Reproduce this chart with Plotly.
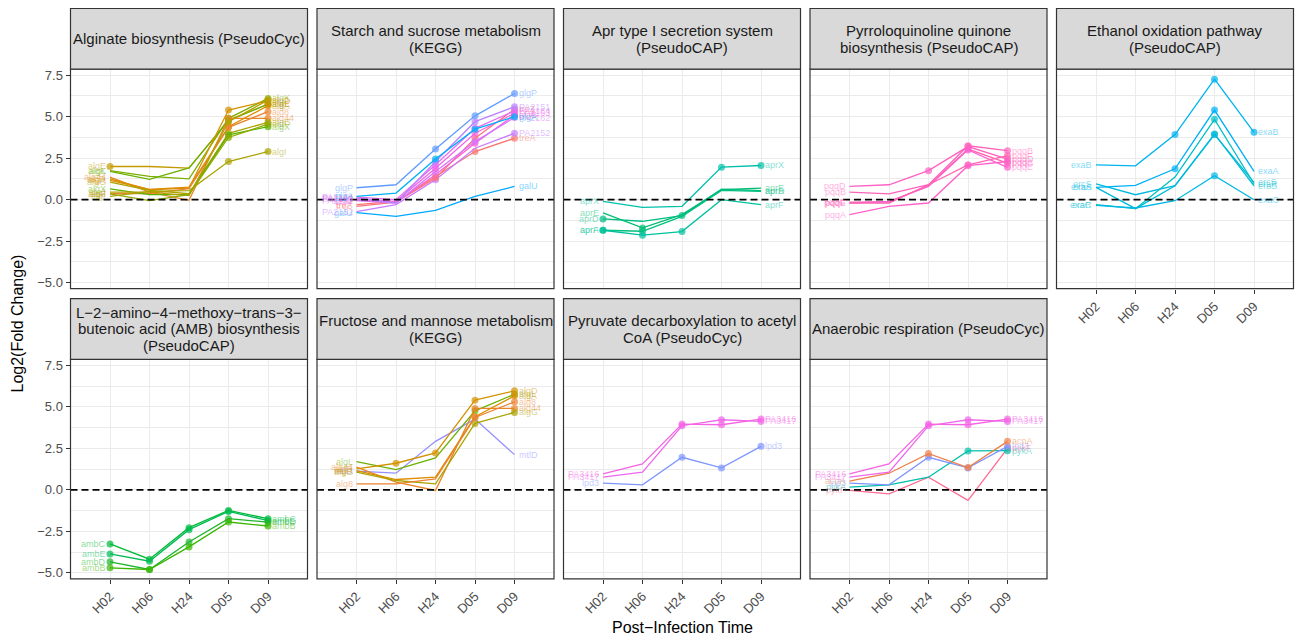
import plotly.graph_objects as go

TIMES = ["H02", "H06", "H24", "D05", "D09"]

# ---------------- data ----------------
alginate_title = ["Alginate biosynthesis (PseudoCyc)"]
alginate_genes = ["algE", "algK", "algL", "alg44", "algD", "algA", "alg8", "algG", "algX", "algJ", "algF", "algI"]
alginate_values = [
    [2.00, 2.00, 1.90, 4.80, 5.75],
    [1.75, 1.40, 1.25, 4.90, 6.10],
    [1.70, 1.22, 1.92, 4.76, 5.76],
    [1.36, 0.46, -0.04, 4.90, 4.90],
    [1.26, 0.60, 0.70, 5.40, 5.96],
    [1.16, 0.62, 0.76, 4.40, 5.66],
    [0.36, 0.36, 0.66, 4.36, 5.30],
    [1.06, 0.56, 0.36, 4.00, 4.66],
    [0.65, 0.30, 0.30, 3.90, 4.40],
    [0.45, 0.45, 0.25, 4.70, 6.00],
    [0.35, -0.05, 0.30, 3.75, 4.55],
    [0.20, 0.50, 0.55, 2.30, 2.90],
]
alginate_sig = [[1, 0, 0, 1, 1]] + [[0, 0, 0, 1, 1]] * 11

starch_title = ["Starch and sucrose metabolism", "(KEGG)"]
starch_genes = ["galU", "treA", "PA2152", "treZ", "glgB", "PA2162", "PA2163", "PA2164", "PA2151", "glgA", "glgP"]
starch_values = [
    [-0.78, -1.00, -0.65, 0.20, 0.80],
    [-0.30, -0.10, 1.40, 2.90, 3.70],
    [-0.72, -0.30, 1.20, 3.10, 4.00],
    [-0.40, -0.15, 1.30, 3.70, 5.45],
    [0.00, -0.15, 1.50, 3.40, 5.10],
    [-0.05, -0.20, 1.70, 3.50, 4.95],
    [0.05, -0.10, 1.90, 4.00, 5.20],
    [0.15, 0.00, 2.10, 4.30, 5.35],
    [0.10, -0.20, 2.30, 4.70, 5.60],
    [0.20, 0.40, 2.45, 4.25, 5.00],
    [0.72, 0.90, 3.05, 5.05, 6.40],
]
starch_sig = [
    [0, 0, 0, 0, 0], [0, 0, 1, 1, 1], [0, 0, 1, 0, 1], [0, 0, 1, 1, 1],
    [0, 0, 0, 1, 1], [0, 0, 1, 1, 1], [0, 0, 1, 1, 1], [0, 0, 1, 1, 1],
    [0, 0, 1, 1, 1], [0, 0, 1, 1, 1], [0, 0, 1, 1, 1],
]

apr_title = ["Apr type I secretion system", "(PseudoCAP)"]
apr_genes = ["aprX", "aprE", "aprD", "aprA", "aprF"]
apr_values = [
    [-0.10, -0.46, -0.40, 1.96, 2.06],
    [-0.80, -1.70, -0.90, 0.60, 0.70],
    [-1.16, -1.30, -0.96, 0.64, 0.55],
    [-1.84, -1.90, -1.00, 0.56, 0.50],
    [-1.84, -2.14, -1.92, 0.00, -0.30],
]
apr_sig = [[0, 0, 0, 1, 1], [0, 1, 0, 0, 0], [1, 0, 1, 0, 0], [1, 1, 0, 0, 0], [1, 1, 1, 0, 0]]

pqq_title = ["Pyrroloquinoline quinone", "biosynthesis (PseudoCAP)"]
pqq_genes = ["pqqD", "pqqB", "pqqC", "pqqE", "pqqF", "pqqA"]
pqq_values = [
    [0.80, 0.90, 1.75, 3.20, 2.45],
    [0.45, 0.35, 0.90, 3.25, 2.95],
    [-0.15, -0.15, 0.85, 3.05, 2.20],
    [-0.20, -0.10, 0.80, 3.00, 1.95],
    [-0.20, -0.20, 0.90, 2.10, 2.65],
    [-0.90, -0.40, -0.20, 2.05, 2.30],
]
pqq_sig = [[0, 0, 1, 1, 1]] + [[0, 0, 0, 1, 1]] * 5

ethanol_title = ["Ethanol oxidation pathway", "(PseudoCAP)"]
ethanol_genes = ["exaB", "exaA", "ercS", "eraS", "eraR", "exaC"]
ethanol_values = [
    [2.10, 2.04, 3.92, 7.26, 4.06],
    [0.74, 0.86, 1.86, 5.40, 1.70],
    [0.96, 0.30, 0.84, 3.92, 1.04],
    [0.74, -0.54, 0.84, 3.96, 0.84],
    [-0.30, -0.54, 1.36, 4.84, 0.96],
    [-0.34, -0.50, -0.06, 1.44, 0.00],
]
ethanol_sig = [[0, 0, 1, 1, 1], [0, 0, 1, 1, 0], [0, 0, 0, 1, 0], [0, 0, 0, 1, 0], [0, 0, 0, 1, 0], [0, 0, 0, 1, 0]]

amb_title = ["L\u22122\u2212amino\u22124\u2212methoxy\u2212trans\u22123\u2212", "butenoic acid (AMB) biosynthesis", "(PseudoCAP)"]
amb_genes = ["ambC", "ambE", "ambD", "ambB"]
amb_values = [
    [-3.26, -4.18, -2.28, -1.24, -1.74],
    [-3.86, -4.30, -2.40, -1.30, -1.85],
    [-4.34, -4.80, -3.14, -1.74, -1.95],
    [-4.70, -4.80, -3.44, -1.94, -2.18],
]
amb_sig = [[1, 1, 1, 1, 1]] * 4

fructose_title = ["Fructose and mannose metabolism", "(KEGG)"]
fructose_genes = ["mtlD", "algL", "alg44", "algD", "algA", "algG", "alg8"]
fructose_values = [
    [1.12, 1.00, 2.92, 4.26, 2.12],
    [1.70, 1.22, 1.92, 4.76, 5.76],
    [1.36, 0.46, -0.04, 4.90, 4.90],
    [1.26, 1.60, 2.22, 5.40, 5.96],
    [1.16, 0.62, 0.76, 4.40, 5.66],
    [1.06, 0.56, 0.36, 4.00, 4.66],
    [0.36, 0.36, 0.66, 4.36, 5.30],
]
fructose_sig = [[0, 0, 0, 0, 0], [0, 0, 0, 1, 1], [0, 0, 0, 1, 1], [0, 1, 1, 1, 1],
                [0, 0, 0, 1, 1], [0, 0, 0, 1, 1], [0, 0, 0, 1, 1]]

pyruvate_title = ["Pyruvate decarboxylation to acetyl", "CoA (PseudoCyc)"]
pyruvate_genes = ["lpd3", "PA3417", "PA3416"]
pyruvate_values = [
    [0.40, 0.30, 1.96, 1.32, 2.62],
    [0.76, 1.06, 3.86, 4.22, 4.12],
    [0.96, 1.56, 3.96, 3.92, 4.26],
]
pyruvate_sig = [[0, 0, 1, 1, 1]] * 3

anaerobic_title = ["Anaerobic respiration (PseudoCyc)"]
anaerobic_genes = ["pykF", "pykA", "lpd3", "acnA", "PA3417", "PA3416"]
anaerobic_values = [
    [-0.04, -0.24, 0.76, -0.64, 2.50],
    [0.16, 0.30, 0.76, 2.34, 2.36],
    [0.40, 0.30, 1.96, 1.32, 2.62],
    [0.52, 1.00, 2.18, 1.34, 2.92],
    [0.76, 1.06, 3.86, 4.22, 4.12],
    [0.96, 1.56, 3.96, 3.92, 4.26],
]
anaerobic_sig = [[0, 0, 0, 0, 1], [0, 0, 0, 1, 1], [0, 0, 1, 1, 1], [0, 0, 1, 1, 1],
                 [0, 0, 1, 1, 1], [0, 0, 1, 1, 1]]

# ---------------- styles ----------------
GENE_COLORS = {
    "algE": "#C49A00", "algK": "#7CAE00", "algL": "#6BB100", "alg44": "#E88526",
    "algD": "#D39200", "algA": "#DE8C00", "alg8": "#EA8331", "algG": "#ABA300",
    "algX": "#53B400", "algJ": "#B79F00", "algF": "#8FAA00", "algI": "#AAA300",
    "galU": "#00A9FF", "treA": "#F8766D", "PA2152": "#C77CFF", "treZ": "#FC7280",
    "glgB": "#FD61D1", "PA2162": "#D575FE", "PA2163": "#F564E3", "PA2164": "#E76BF3",
    "PA2151": "#B983FF", "glgA": "#00B0F6", "glgP": "#619CFF",
    "aprX": "#00C0AB", "aprE": "#00BE70", "aprD": "#00BD82", "aprA": "#00BF7D", "aprF": "#00C19F",
    "pqqD": "#FF61C3", "pqqB": "#FF62BC", "pqqC": "#FF65AE", "pqqE": "#FD61D1",
    "pqqF": "#FF64B3", "pqqA": "#FF61C9",
    "exaB": "#00B4EF", "exaA": "#00B0F6", "ercS": "#00BAE0", "eraS": "#00BCD8",
    "eraR": "#00BFC4", "exaC": "#00B8E5",
    "ambC": "#00BA38", "ambE": "#00BC56", "ambD": "#1DB52A", "ambB": "#39B600",
    "mtlD": "#9590FF", "lpd3": "#7F96FF", "PA3417": "#EF67EB", "PA3416": "#F564E3",
    "acnA": "#EE7F46", "pykA": "#00BFAA", "pykF": "#FF6C91",
}

PANELS = [
    (alginate_title, alginate_genes, alginate_values, alginate_sig),
    (starch_title, starch_genes, starch_values, starch_sig),
    (apr_title, apr_genes, apr_values, apr_sig),
    (pqq_title, pqq_genes, pqq_values, pqq_sig),
    (ethanol_title, ethanol_genes, ethanol_values, ethanol_sig),
    (amb_title, amb_genes, amb_values, amb_sig),
    (fructose_title, fructose_genes, fructose_values, fructose_sig),
    (pyruvate_title, pyruvate_genes, pyruvate_values, pyruvate_sig),
    (anaerobic_title, anaerobic_genes, anaerobic_values, anaerobic_sig),
]

# The page body adds an 8px margin, so the figure is drawn 8px in from the
# window corner; coordinates below are window pixels and are converted.
OFF = 8
W, H = 1304 - OFF, 641 - OFF
FONT = "Liberation Sans, Arial, Helvetica, sans-serif"
COL_X0 = [70.5 + i * 246.5 for i in range(5)]
PANEL_W = 237
STRIP_TOP = [7.5, 299.0]
PLOT_TOP = [68.5, 360.0]
PLOT_BOT = [289.0, 580.5]
YRANGE = [-5.36, 7.86]
GRID = "#EBEBEB"
DARK = "#333333"


def rgba(hexc, a):
    h = hexc.lstrip("#")
    return "rgba(%d,%d,%d,%.2f)" % (int(h[0:2], 16), int(h[2:4], 16), int(h[4:6], 16), a)


def px(xp):
    return (xp - OFF) / W


def py(yp):
    return 1 - (yp - OFF) / H


fig = go.Figure()
shapes = []
annotations = []
layout_axes = {}

for k, (title, genes, values, sig) in enumerate(PANELS, start=1):
    row = 0 if k <= 5 else 1
    col = (k - 1) if k <= 5 else (k - 6)
    x0 = COL_X0[col]
    x1 = x0 + PANEL_W
    sfx = "" if k == 1 else str(k)
    xa = "x" + sfx
    ya = "y" + sfx
    show_x = (k >= 5)
    show_y = (col == 0)

    layout_axes["xaxis" + sfx] = dict(
        domain=[px(x0), px(x1)], anchor=ya, type="category",
        categoryorder="array", categoryarray=TIMES, range=[-1, 5],
        showgrid=True, gridcolor=GRID, gridwidth=1.1, zeroline=False, showline=False,
        ticks="outside" if show_x else "", ticklen=4, tickwidth=1.1, tickcolor=DARK,
        showticklabels=show_x, tickangle=-45,
        tickfont=dict(family=FONT, size=13, color="#4D4D4D"), fixedrange=True,
    )
    layout_axes["yaxis" + sfx] = dict(
        domain=[py(PLOT_BOT[row]), py(PLOT_TOP[row])], anchor=xa, range=YRANGE,
        tick0=0, dtick=2.5, tickformat=".1f",
        showgrid=True, gridcolor=GRID, gridwidth=1.1, zeroline=False, showline=False,
        minor=dict(dtick=1.25, showgrid=True, gridcolor=GRID, gridwidth=0.55),
        ticks="outside" if show_y else "", ticklen=4, tickwidth=1.1, tickcolor=DARK,
        showticklabels=show_y, tickfont=dict(family=FONT, size=13, color="#4D4D4D"),
        fixedrange=True,
    )

    for g, vals, s in zip(genes, values, sig):
        c = GENE_COLORS[g]
        fig.add_trace(go.Scatter(
            x=TIMES, y=vals, mode="lines+markers", xaxis=xa, yaxis=ya,
            line=dict(color=c, width=1.3),
            marker=dict(color=c, size=[7 if f else 0 for f in s], line=dict(width=0)),
            showlegend=False, hoverinfo="skip",
        ))
        annotations.append(dict(x=TIMES[0], y=vals[0], xref=xa, yref=ya, text=g, showarrow=False,
                                xanchor="right", yanchor="middle", xshift=-2,
                                font=dict(family=FONT, size=9, color=rgba(c, 0.5))))
        annotations.append(dict(x=TIMES[-1], y=vals[-1], xref=xa, yref=ya, text=g, showarrow=False,
                                xanchor="left", yanchor="middle", xshift=2,
                                font=dict(family=FONT, size=9, color=rgba(c, 0.5))))

    # zero line (drawn through the panel's own axes)
    shapes.append(dict(type="line", xref=xa, yref=ya, x0=-1, x1=5, y0=0, y1=0,
                       line=dict(color="black", width=1.7, dash="7px,4px"), layer="above"))

    # panel border
    shapes.append(dict(type="rect", xref="paper", yref="paper", x0=px(x0), x1=px(x1),
                       y0=py(PLOT_BOT[row]), y1=py(PLOT_TOP[row]),
                       line=dict(color=DARK, width=1.2), fillcolor="rgba(0,0,0,0)", layer="above"))
    # strip
    shapes.append(dict(type="rect", xref="paper", yref="paper", x0=px(x0), x1=px(x1),
                       y0=py(PLOT_TOP[row]), y1=py(STRIP_TOP[row]),
                       line=dict(color=DARK, width=1.2), fillcolor="#D9D9D9", layer="above"))
    yc = (STRIP_TOP[row] + PLOT_TOP[row]) / 2
    n = len(title)
    for i, line in enumerate(title):
        yl = yc + (i - (n - 1) / 2) * 17
        annotations.append(dict(x=px((x0 + x1) / 2), y=py(yl), xref="paper", yref="paper",
                                text=line, showarrow=False, xanchor="center", yanchor="middle",
                                font=dict(family=FONT, size=15, color="#1A1A1A")))

annotations.append(dict(x=px(18), y=py(324), xref="paper", yref="paper", text="Log2(Fold Change)",
                        showarrow=False, textangle=-90, xanchor="center", yanchor="middle",
                        font=dict(family=FONT, size=16, color="black")))
annotations.append(dict(x=px(682), y=py(629), xref="paper", yref="paper",
                        text="Post\u2212Infection Time", showarrow=False,
                        xanchor="center", yanchor="middle",
                        font=dict(family=FONT, size=16, color="black")))

fig.update_layout(
    width=W, height=H, margin=dict(l=0, r=0, t=0, b=0),
    paper_bgcolor="white", plot_bgcolor="white",
    shapes=shapes, annotations=annotations, showlegend=False,
    font=dict(family=FONT), **layout_axes,
)

fig.write_html("out.html", config={"displayModeBar": False})
